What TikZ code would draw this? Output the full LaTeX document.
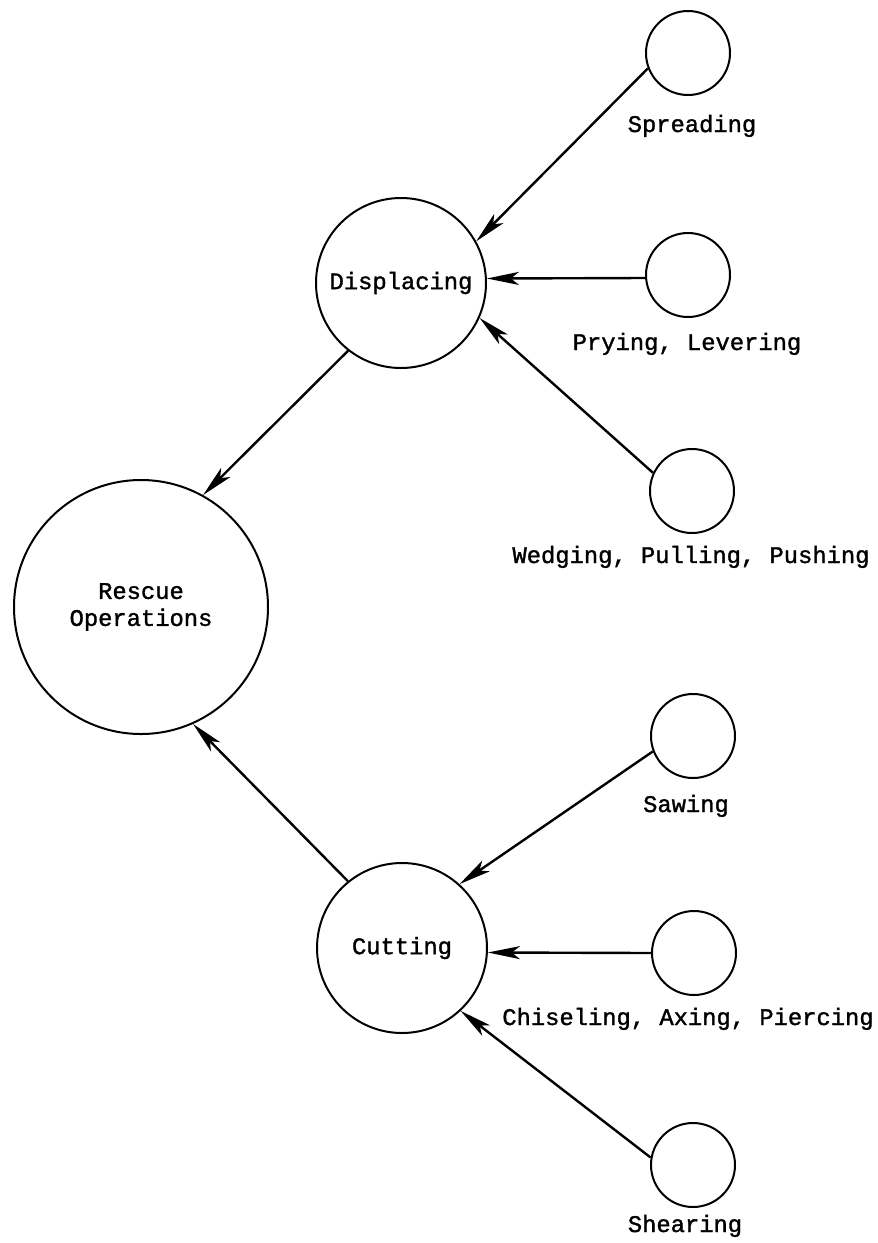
\documentclass[tikz,border=0pt]{standalone}
\usepackage{fontspec}
\newfontfamily\twfont[FakeBold=1.4]{Liberation Mono}
\usetikzlibrary{arrows.meta}
\begin{document}
\begin{tikzpicture}[x=1pt,y=-1pt,
  every node/.style={font=\twfont\fontsize{23.8}{28}\selectfont},
  bigc/.style={draw, circle, line width=2pt, inner sep=0pt, minimum size=170pt},
  hugec/.style={draw, circle, line width=2pt, inner sep=0pt, minimum size=254pt, align=center},
  smallc/.style={draw, circle, line width=2pt, inner sep=0pt, minimum size=84pt},
  lbl/.style={anchor=base, inner sep=0pt},
  conn/.style={line width=2.4pt, -{Stealth[length=32pt, width=13pt, inset=8pt]}}]
\useasboundingbox (0,0) rectangle (878,1243);
% main circles
\node[bigc] (disp) at (401,283) {Displacing};
\node[hugec] (res) at (141,607) {Rescue\\[-1pt]Operations};
\node[bigc] (cut) at (402,948) {Cutting};
% small circles
\node[smallc] (spr) at (688,53) {};
\node[smallc] (pry) at (688,275) {};
\node[smallc] (wed) at (692,491) {};
\node[smallc] (saw) at (693,736) {};
\node[smallc] (chi) at (694,953) {};
\node[smallc] (she) at (693,1165) {};
% labels
\node[lbl] (tspr) at (692,132) {Spreading};
\node[lbl] (tpry) at (687,350) {Prying, Levering};
\node[lbl] (twed) at (691,563) {Wedging, Pulling, Pushing};
\node[lbl] (tsaw) at (686,812) {Sawing};
\node[lbl] (tchi) at (688,1025) {Chiseling, Axing, Piercing};
\node[lbl] (tshe) at (685,1232) {Shearing};
% connectors
\draw[conn] (spr.201) -- (disp.29.5);
\draw[conn] (pry.184) -- (disp.3.4);
\draw[conn] (wed.155) -- (disp.336);
\draw[conn] (disp.232.7) -- (res.61.5);
\draw[conn] (saw.201) -- (cut.48);
\draw[conn] (chi.180) -- (cut.357);
\draw[conn] (she.170) -- (cut.313);
\draw[conn] (cut.129) -- (res.294);
\end{tikzpicture}
\end{document}
